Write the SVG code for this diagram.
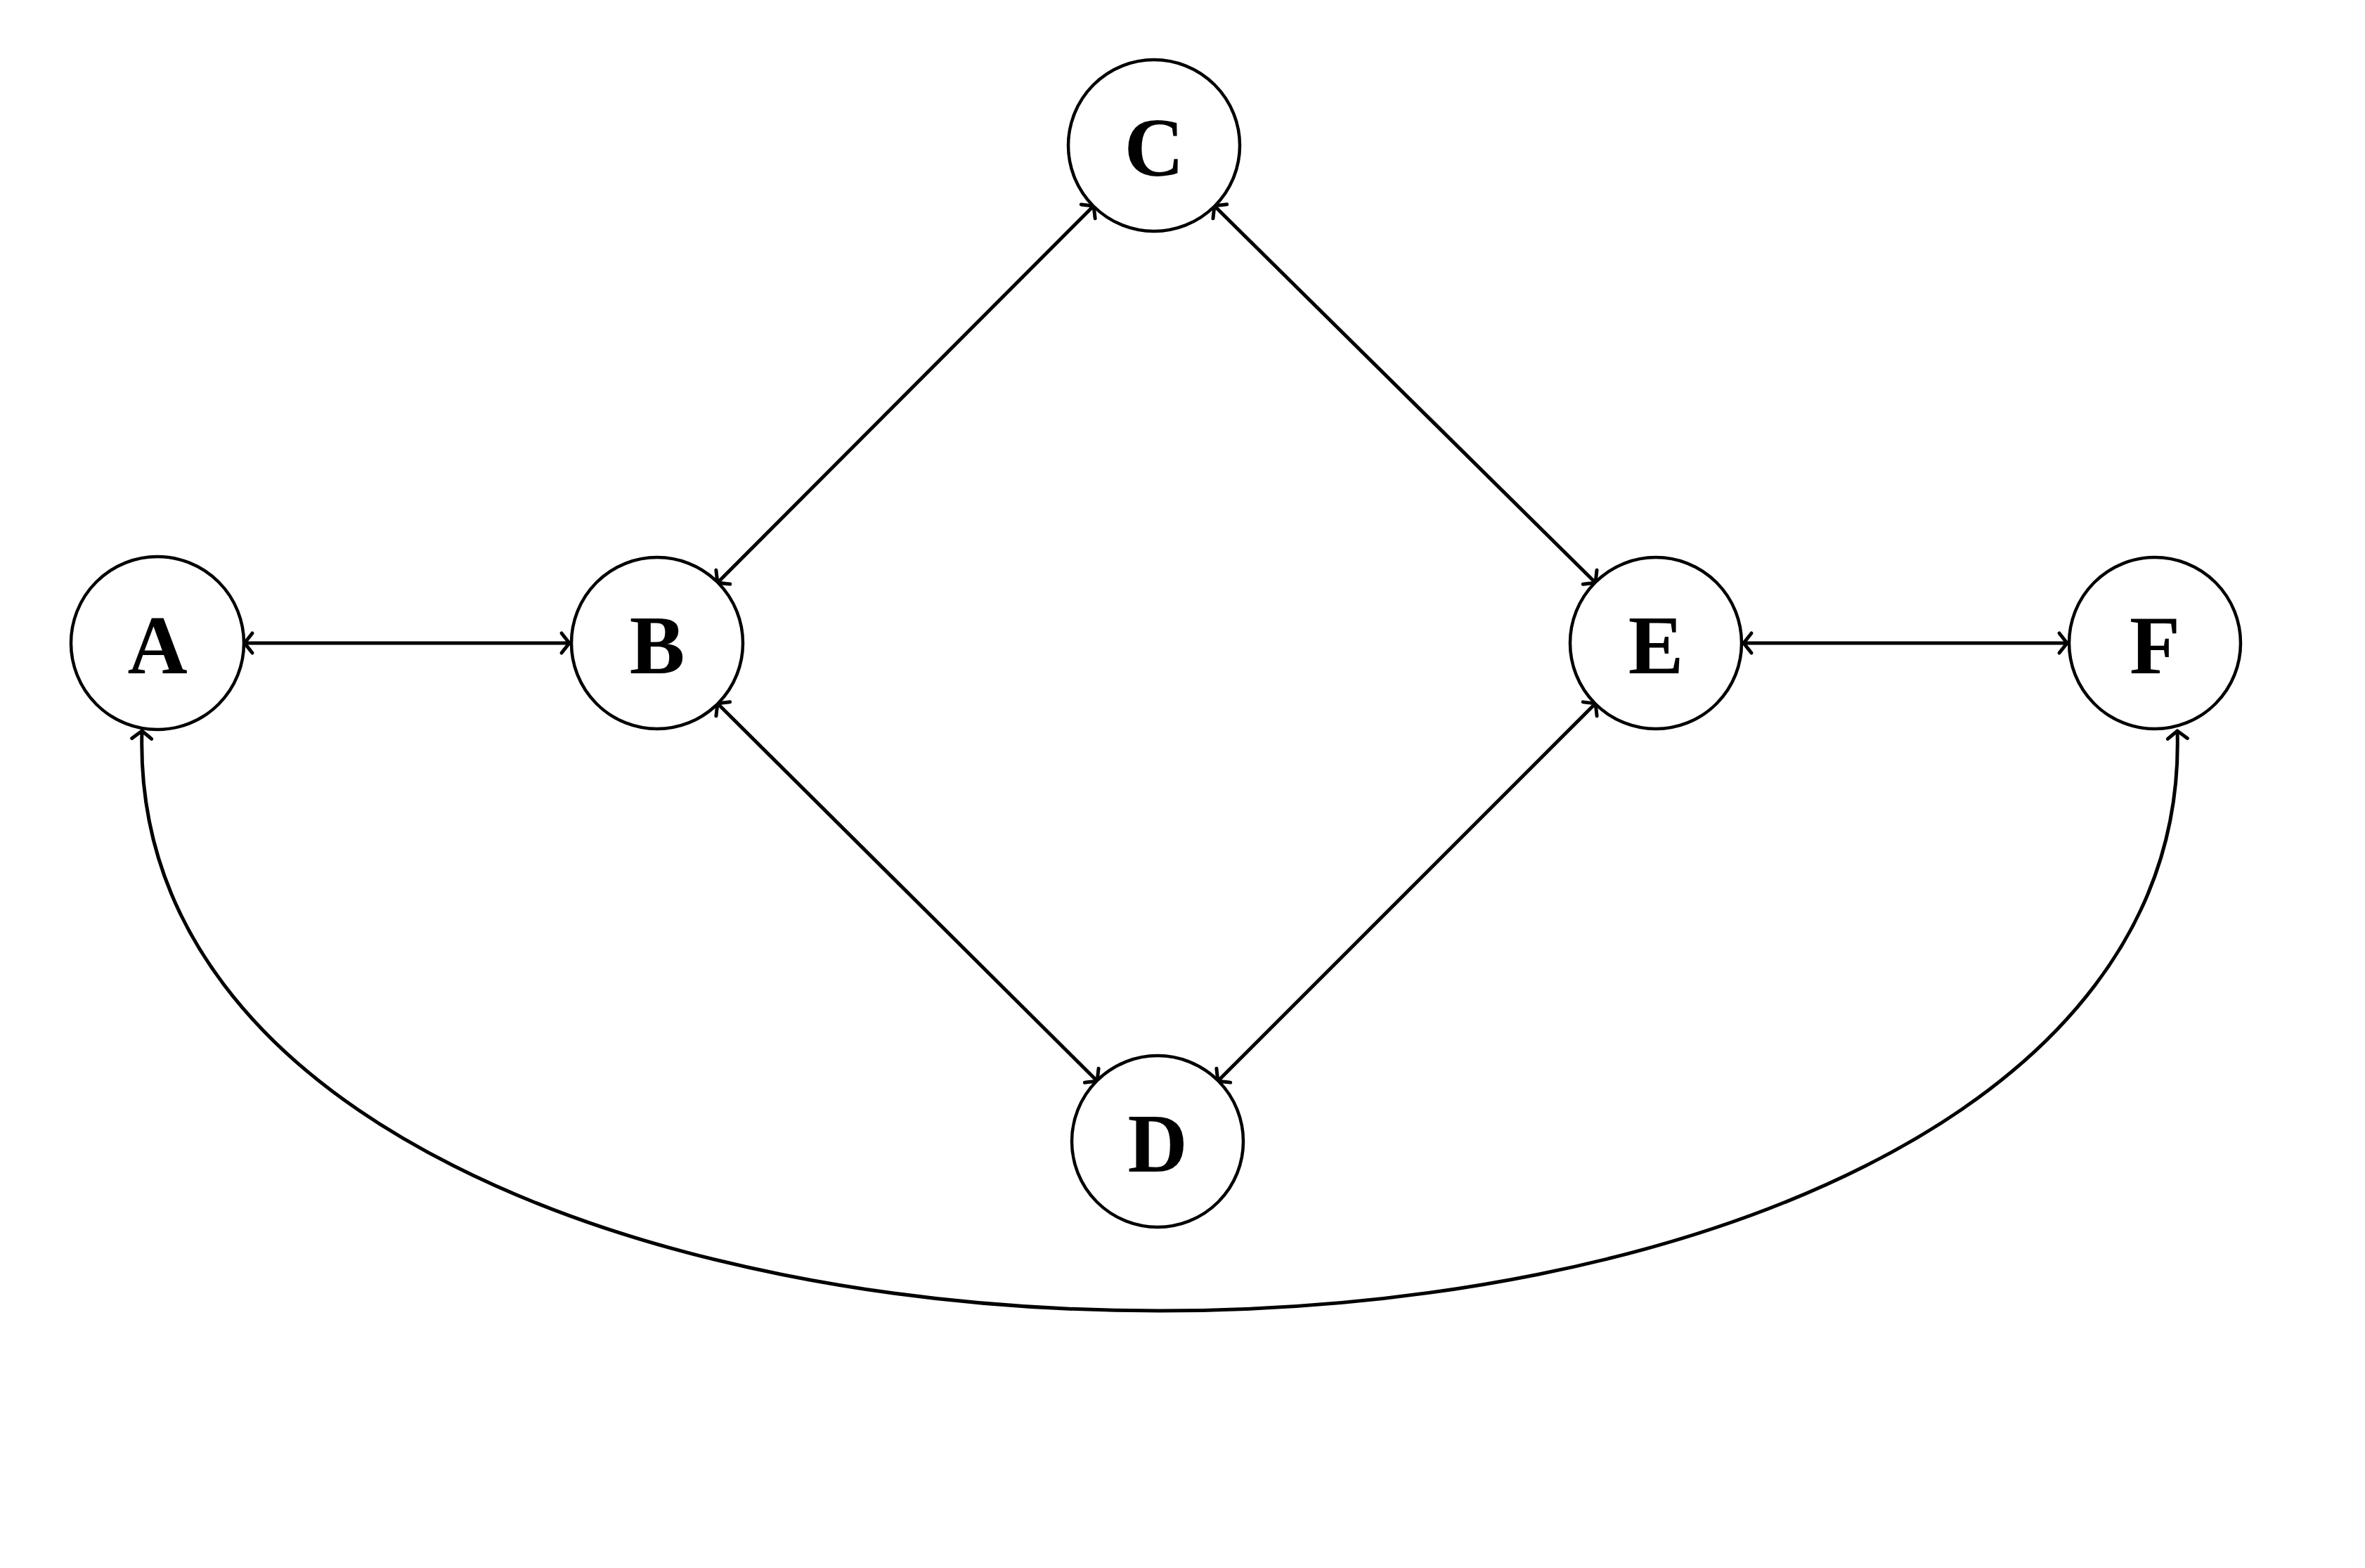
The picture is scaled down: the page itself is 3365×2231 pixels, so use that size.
<svg xmlns="http://www.w3.org/2000/svg" width="3365" height="2231" viewBox="0 0 3365 2231">
<style>
.n{fill:#fff;stroke:#000;stroke-width:4.5}
.t{font-family:"Liberation Serif",serif;font-weight:bold;font-size:118px;text-anchor:middle;dominant-baseline:central}
.e{fill:none;stroke:#000;stroke-width:5;marker-start:url(#h);marker-end:url(#h)}
</style>
<defs>
<marker id="h" markerUnits="userSpaceOnUse" markerWidth="40" markerHeight="40" viewBox="-20 -20 40 40" refX="0" refY="0" orient="auto-start-reverse">
<path d="M-11 -14 Q-3 -4 0 0 Q-3 4 -11 14" fill="none" stroke="#000" stroke-width="5" stroke-linecap="round"/>
</marker>
</defs>
<rect width="3365" height="2231" fill="#fff"/>
<g id="connectors">
<line class="e" x1="348" y1="915" x2="810" y2="915"/>
<line class="e" x1="1021" y1="829" x2="1556" y2="293"/>
<line class="e" x1="1728" y1="293" x2="2270" y2="829"/>
<line class="e" x1="1021" y1="1001" x2="1561" y2="1538"/>
<line class="e" x1="1733" y1="1538" x2="2270" y2="1001"/>
<line class="e" x1="2481" y1="915" x2="2941" y2="915"/>
<path class="e" d="M202 1040 C170 2140 3130 2140 3098 1040"/>
</g>
<g id="A"><circle class="n" cx="224" cy="915" r="123"/><text class="t" x="224" y="918">A</text></g>
<g id="B"><circle class="n" cx="935" cy="915" r="122"/><text class="t" x="935" y="918">B</text></g>
<g id="C"><circle class="n" cx="1642" cy="207" r="122"/><text class="t" x="1642" y="210">C</text></g>
<g id="D"><circle class="n" cx="1647" cy="1624" r="122"/><text class="t" x="1647" y="1627">D</text></g>
<g id="E"><circle class="n" cx="2356" cy="915" r="122"/><text class="t" x="2356" y="918">E</text></g>
<g id="F"><circle class="n" cx="3066" cy="915" r="122"/><text class="t" x="3066" y="918">F</text></g>
</svg>
